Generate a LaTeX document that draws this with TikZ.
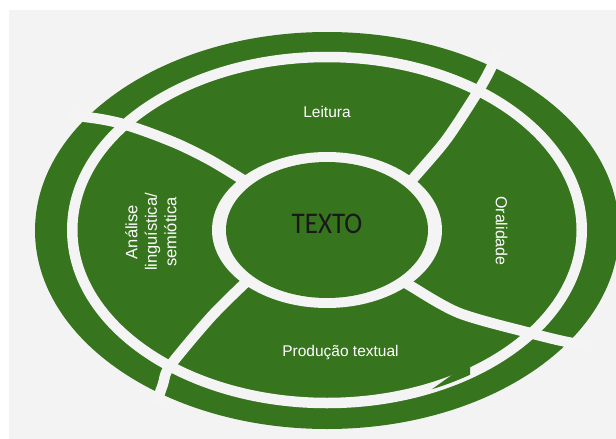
\documentclass[tikz,border=0pt]{standalone}
\usepackage{fontspec}
\setmainfont{Liberation Sans}
\newfontfamily\titlefont{Carlito}
\definecolor{leaf}{RGB}{55,116,30}
\definecolor{paper}{RGB}{243,243,243}
\definecolor{gapc}{RGB}{244,244,244}

\begin{document}
\begin{tikzpicture}[x=1pt,y=-1pt,
  gap/.style={draw=gapc, line width=10.5pt, line cap=butt, line join=round},
  lbl/.style={text=white, inner sep=0pt, font=\fontsize{15.5}{18}\selectfont},
]
\useasboundingbox (0,0) rectangle (616,439);
\fill[white] (0,0) rectangle (616,439);
\fill[paper] (9,10) rectangle (616,439);

\begin{scope}
  \clip (0,0) rectangle (616,439);
  % outer disc
  \fill[leaf] (327,230.5) ellipse [x radius=292pt, y radius=198.5pt];
  % four curved dividers, running from the hub out through the rim
  \draw[gap] plot[smooth] coordinates {(400,195) (412,180) (446,140) (477,93) (490,70) (498,52)};
  \draw[gap] plot[smooth] coordinates {(252,186) (240,178) (210,160) (180,145) (150,133) (123,124) (100,119) (70,115)};
  \draw[gap] plot[smooth] coordinates {(255,275) (243,285) (210,318) (170,366) (163,384) (156,405)};
  \draw[gap] plot[smooth] coordinates {(398,278) (409,285) (459,313) (530,333) (567,342) (592,346)};
  % ring separating the rim from the four sectors
  \draw[gapc, line width=10.5pt] (327,230) ellipse [x radius=254.75pt, y radius=173pt];
  % small bulge of the lower sector into the ring
  \begin{scope}
    \clip (428,392) -- (470,362) -- (470,420) -- (428,420) -- cycle;
    \fill[leaf] (327,230) ellipse [x radius=256pt, y radius=174.5pt];
  \end{scope}
  % hub
  \fill[gapc] (327,230) ellipse [x radius=115pt, y radius=78pt];
  \fill[leaf] (327,230) ellipse [x radius=101pt, y radius=68pt];
\end{scope}

% labels
\node[lbl, anchor=base] (leitura) at (327,117) {Leitura};
\node[lbl, anchor=base] (producao) at (340.5,356) {Produção textual};
\node[lbl, rotate=-90, font=\fontsize{16}{19}\selectfont] (oralidade) at (501.5,231) {Oralidade};
\node[lbl, rotate=90, align=center, font=\fontsize{16.5}{19.5}\selectfont] (analise) at (151,232) {Análise\\linguística/\\semiótica};
\node[anchor=base, inner sep=0pt, text=black!90, font=\titlefont\fontsize{30}{33}\selectfont] (texto) at (327,233.5) {\scalebox{0.9}[1]{TEXTO}};
\end{tikzpicture}
\end{document}
